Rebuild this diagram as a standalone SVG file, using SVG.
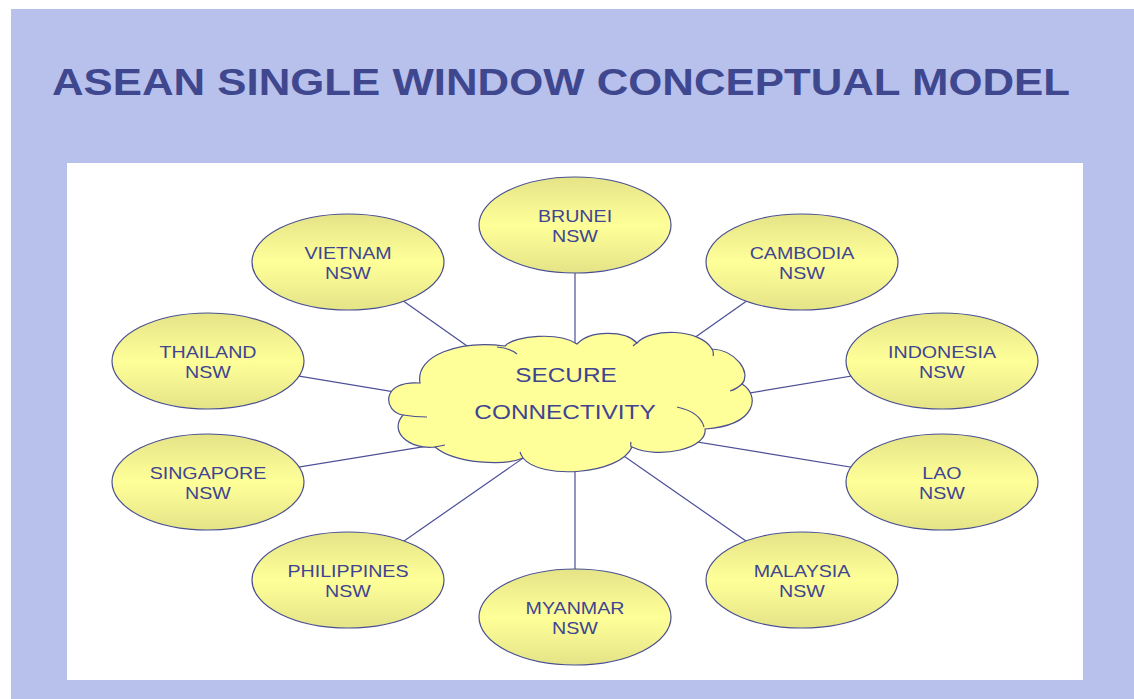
<svg xmlns="http://www.w3.org/2000/svg" width="1134" height="699" viewBox="0 0 1134 699">
<defs>
<linearGradient id="eg" x1="0" y1="0" x2="0" y2="1">
<stop offset="0" stop-color="#e4e488"/>
<stop offset="0.5" stop-color="#ffff99"/>
<stop offset="1" stop-color="#e4e488"/>
</linearGradient>
<style>
.node ellipse{fill:url(#eg);stroke:#4a4f8f;stroke-width:1.2}
.node text{font-family:"Liberation Sans",Arial,sans-serif;font-size:16.5px;fill:#3f4590;text-anchor:middle}
.conn line{stroke:#4b4f96;stroke-width:1.2}
.ctext{font-family:"Liberation Sans",Arial,sans-serif;font-size:21px;fill:#3f4590;text-anchor:middle}
</style>
</defs>
<rect x="0" y="0" width="1134" height="699" fill="#ffffff"/>
<rect x="11" y="9" width="1123" height="690" fill="#b8c0ec"/>
<text x="52" y="95" textLength="1018" lengthAdjust="spacingAndGlyphs" font-family="'Liberation Sans',Arial,sans-serif" font-weight="bold" font-size="37" fill="#3f478f">ASEAN SINGLE WINDOW CONCEPTUAL MODEL</text>
<rect x="67" y="163" width="1016" height="517" fill="#ffffff"/>
<g class="conn" id="connectors">
<line x1="575" y1="225" x2="575" y2="422"/>
<line x1="802" y1="262" x2="575" y2="422"/>
<line x1="348" y1="262" x2="575" y2="422"/>
<line x1="208" y1="361" x2="575" y2="422"/>
<line x1="942" y1="361" x2="575" y2="422"/>
<line x1="208" y1="482" x2="575" y2="422"/>
<line x1="942" y1="482" x2="575" y2="422"/>
<line x1="348" y1="580" x2="575" y2="422"/>
<line x1="802" y1="580" x2="575" y2="422"/>
<line x1="575" y1="617" x2="575" y2="422"/>
</g>
<g id="cloud">
<path d="M 420 383 C 415 355 460 340 505 346 C 515 335 560 332 577 344 C 590 330 625 330 637 343 C 650 328 700 328 712 349 C 735 350 752 372 742 384 C 760 395 758 425 705 429 C 708 448 660 460 632 447 C 620 475 540 480 523 458 C 505 466 455 464 435 447 C 410 450 388 432 403 415 C 383 412 380 380 420 383 Z" fill="#ffff99" stroke="#4a4f8f" stroke-width="1.2"/>
<path d="M 497 347 Q 510 348 517 354 M 743 383 Q 737 389 730 391 M 677 407 Q 700 412 704 427 M 632 448 Q 630 446 631 442 M 523 458 Q 521 455 520 452 M 435 447 Q 440 446 445 445 M 403 415 Q 415 417 427 417 M 712 349 Q 714 352 713 356 M 633 346 Q 635 344 637 343" fill="none" stroke="#4a4f8f" stroke-width="1.2"/>
<text class="ctext" transform="translate(566,382) scale(1.16,1)">SECURE</text>
<text class="ctext" transform="translate(565,419) scale(1.16,1)">CONNECTIVITY</text>
</g>
<g class="node" id="brunei" transform="translate(575,225)"><ellipse rx="96" ry="48"/><g transform="scale(1.19,1)"><text y="-3">BRUNEI</text><text y="17">NSW</text></g></g>
<g class="node" id="cambodia" transform="translate(802,262)"><ellipse rx="96" ry="48"/><g transform="scale(1.19,1)"><text y="-3">CAMBODIA</text><text y="17">NSW</text></g></g>
<g class="node" id="vietnam" transform="translate(348,262)"><ellipse rx="96" ry="48"/><g transform="scale(1.19,1)"><text y="-3">VIETNAM</text><text y="17">NSW</text></g></g>
<g class="node" id="thailand" transform="translate(208,361)"><ellipse rx="96" ry="48"/><g transform="scale(1.19,1)"><text y="-3">THAILAND</text><text y="17">NSW</text></g></g>
<g class="node" id="indonesia" transform="translate(942,361)"><ellipse rx="96" ry="48"/><g transform="scale(1.19,1)"><text y="-3">INDONESIA</text><text y="17">NSW</text></g></g>
<g class="node" id="singapore" transform="translate(208,482)"><ellipse rx="96" ry="48"/><g transform="scale(1.19,1)"><text y="-3">SINGAPORE</text><text y="17">NSW</text></g></g>
<g class="node" id="lao" transform="translate(942,482)"><ellipse rx="96" ry="48"/><g transform="scale(1.19,1)"><text y="-3">LAO</text><text y="17">NSW</text></g></g>
<g class="node" id="philippines" transform="translate(348,580)"><ellipse rx="96" ry="48"/><g transform="scale(1.19,1)"><text y="-3">PHILIPPINES</text><text y="17">NSW</text></g></g>
<g class="node" id="malaysia" transform="translate(802,580)"><ellipse rx="96" ry="48"/><g transform="scale(1.19,1)"><text y="-3">MALAYSIA</text><text y="17">NSW</text></g></g>
<g class="node" id="myanmar" transform="translate(575,617)"><ellipse rx="96" ry="48"/><g transform="scale(1.19,1)"><text y="-3">MYANMAR</text><text y="17">NSW</text></g></g>
</svg>
